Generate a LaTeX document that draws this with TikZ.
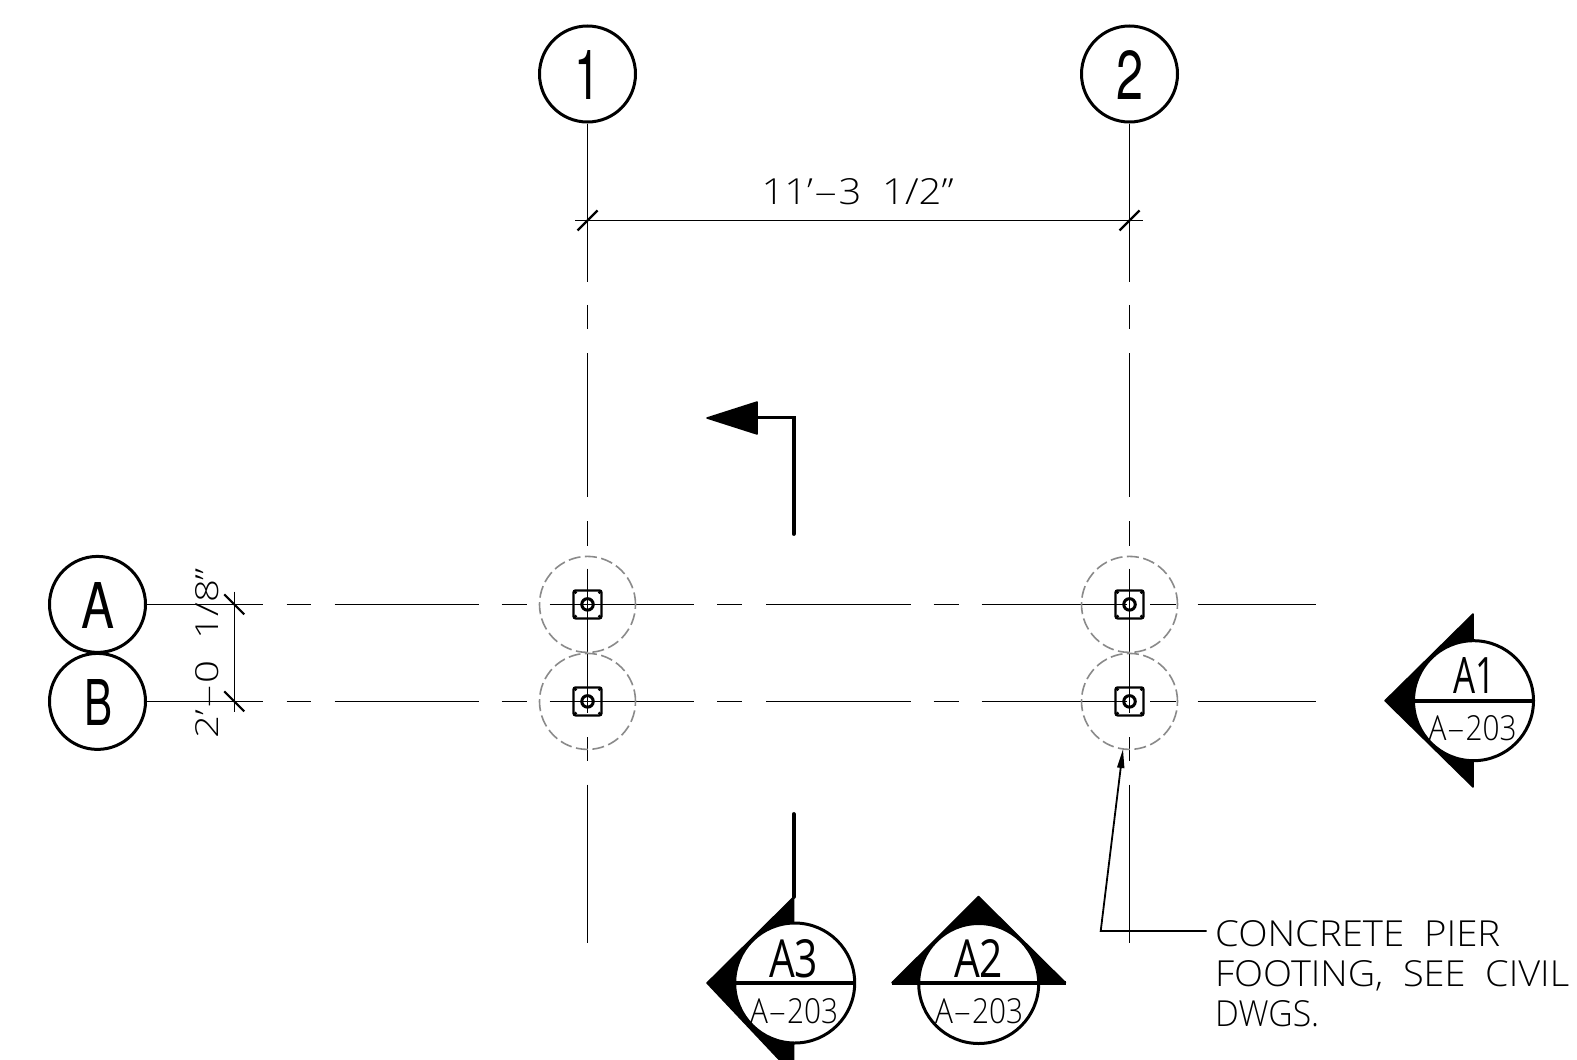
\documentclass[tikz,border=0pt]{standalone}
\usepackage{graphicx}
\usepackage{fontspec}
\usetikzlibrary{arrows.meta}
\setmainfont{TeX Gyre Heros}
\newfontfamily\thinfont{Open Sans}[UprightFont=* Light]
\newfontfamily\midfont{Open Sans}
\newcommand\fit[3]{\resizebox{#1pt}{#2pt}{#3}}
\newcommand\lhy{\scalebox{2}[1]{-}}
\definecolor{piergray}{HTML}{8A8A8A}
\tikzset{
  x=1pt,y=-1pt,
  bubble/.style={circle,draw=black,line width=3pt,minimum size=96pt,inner sep=0pt,fill=white},
  gridline/.style={line width=1.2pt,black},
  pierzone/.style={circle,draw=piergray,line width=1.6pt,minimum size=96pt,inner sep=0pt,dash pattern=on 12pt off 4.5pt},
  pierplate/.style={draw=black,line width=2.2pt,rounded corners=2pt,minimum size=28pt,inner sep=0pt},
  pierbolt/.style={circle,draw=black,line width=3pt,minimum size=11.5pt,inner sep=0pt},
  platedot/.style={circle,fill=black,minimum size=3.5pt,inner sep=0pt},
  dimline/.style={line width=1.2pt,black},
  dimtick/.style={line width=2.2pt,black},
  heavy/.style={line width=3.8pt,black,line cap=round},
  sectri/.style={fill=black,draw=black,line width=1.5pt,line join=round},
  seccircle/.style={circle,draw=black,line width=3pt,fill=white,minimum size=120pt,inner sep=0pt},
  thintext/.style={inner sep=0pt,anchor=base,font=\thinfont\fontsize{34}{40}\selectfont},
  midtext/.style={inner sep=0pt,anchor=base,font=\midfont\fontsize{34}{40}\selectfont},
  boldtext/.style={inner sep=0pt,anchor=base,font=\fontsize{60}{60}\selectfont},
  coldash/.style={dash pattern=on 158.4pt off 23pt on 24.3pt off 23.8pt on 144pt off 24.2pt on 24.3pt off 23pt on 144.7pt off 24pt on 24pt off 23.3pt on 200pt off 10pt},
  rowdash/.style={dash pattern=on 115.5pt off 24pt on 24pt off 24pt on 144pt off 23pt on 25pt off 23pt on 144.5pt off 23pt on 25pt off 24pt on 145pt off 22.5pt on 25pt off 23pt on 145pt off 23.5pt on 26pt off 21.5pt on 200pt off 10pt},
}
\begin{document}
\begin{tikzpicture}
\useasboundingbox (0,0) rectangle (1577,1060);
\clip (0,0) rectangle (1577,1060);
\fill[white] (0,0) rectangle (1577,1060);

% bubbles
\node[bubble] (c1) at (587.5,74) {};
\node[bubble] (c2) at (1129.5,74) {};
\node[bubble] (ra) at (97.5,604.4) {};
\node[bubble] (rb) at (97.5,701.4) {};
\node[boldtext] (t1) at (587,99) {\fit{26}{49}{1}};
\node[boldtext] (t2) at (1129.5,99) {\fit{27}{49}{2}};
\node[boldtext] (ta) at (97.5,628) {\fit{33}{46}{A}};
\node[boldtext] (tb) at (98.5,725) {\fit{28}{46}{B}};

% grid line ends
\coordinate (c1end) at (587.5,943);
\coordinate (c2end) at (1129.5,943);
\coordinate (raend) at (1316,604.4);
\coordinate (rbend) at (1316,701.4);
\draw[gridline,coldash] (c1.south) -- (c1end);
\draw[gridline,coldash] (c2.south) -- (c2end);
\draw[gridline,rowdash] (ra.east) -- (raend);
\draw[gridline,rowdash] (rb.east) -- (rbend);

% piers
\foreach \nm/\px/\py in {pa/587.5/604.4,pb/587.5/701.4,pc/1129.5/604.4,pd/1129.5/701.4}{
  \node[pierzone] (z\nm) at (\px,\py) {};
  \node[pierplate] (s\nm) at (\px,\py) {};
  \node[pierbolt] (b\nm) at (\px,\py) {};
  \node[platedot] at ([shift={(-12,-12)}]\px,\py) {};
  \node[platedot] at ([shift={(12,-12)}]\px,\py) {};
  \node[platedot] at ([shift={(-12,12)}]\px,\py) {};
  \node[platedot] at ([shift={(12,12)}]\px,\py) {};
}

% horizontal dimension
\coordinate (dl) at (575,220.5);
\coordinate (dr) at (1142.5,220.5);
\coordinate (d1) at (587.5,220.5);
\coordinate (d2) at (1129.5,220.5);
\draw[dimline] (dl) -- (dr);
\draw[dimtick] ([shift={(-10,10)}]d1) -- ([shift={(10,-10)}]d1);
\draw[dimtick] ([shift={(-10,10)}]d2) -- ([shift={(10,-10)}]d2);
\node[thintext] (dimh) at (857.5,204) {\fit{192}{26}{11’\lhy{}3\ \ 1/2”}};

% vertical dimension
\coordinate (v1) at (234.3,604.4);
\coordinate (v2) at (234.3,701.4);
\coordinate (vt) at (234.3,591.5);
\coordinate (vb) at (234.3,711.5);
\draw[dimline] (vt) -- (vb);
\draw[dimtick] ([shift={(-10,-10)}]v1) -- ([shift={(10,10)}]v1);
\draw[dimtick] ([shift={(-10,-10)}]v2) -- ([shift={(10,10)}]v2);
\node[thintext,rotate=90] (dimv) at (218,653) {\fit{170}{23}{2’\lhy{}0\ \ 1/8”}};

% section arrow, view marker
\coordinate (ss) at (793.7,534);
\coordinate (sc) at (793.7,417.5);
\coordinate (st) at (707,418);
\fill[black,draw=black,line width=1.5pt,line join=round] (st) -- (757,402) -- (757,434) -- cycle;
\draw[heavy] (ss) -- (sc) -- (755,417.5);

% A3
\coordinate (a3s) at (793.7,814);
\coordinate (a3t) at (793.7,897);
\draw[heavy] (a3s) -- (a3t);
\draw[sectri] (a3t) -- (707,983) -- (793.7,1075) -- cycle;
\node[seccircle] (a3) at (794.7,983) {};
\draw[heavy,line cap=butt] (a3.west) -- (a3.east);
\node[midtext] (a3u) at (793.5,977) {\fit{49}{38}{A3}};
\node[thintext] (a3l) at (794,1023) {\fit{88}{25}{A\lhy{}203}};

% A2
\draw[sectri] (892,982.7) -- (978.5,896.5) -- (1065.5,982.7) -- cycle;
\node[seccircle] (a2) at (978.7,983.5) {};
\draw[heavy,line cap=butt] (892,982.7) -- (1065.5,982.7);
\node[midtext] (a2u) at (978.5,977) {\fit{49}{38}{A2}};
\node[thintext] (a2l) at (979,1023) {\fit{88}{25}{A\lhy{}203}};

% A1
\draw[sectri] (1473,614) -- (1385,700.7) -- (1473,787) -- cycle;
\node[seccircle] (a1) at (1473.5,700.7) {};
\draw[heavy,line cap=butt] (a1.west) -- (a1.east);
\node[midtext] (a1u) at (1474,693) {\fit{42}{36}{A1}};
\node[thintext] (a1l) at (1472.5,740) {\fit{88}{25}{A\lhy{}203}};

% leader and note
\node[thintext,anchor=north west,align=left] (note) at (1215,920) {%
  \fit{285}{26}{CONCRETE\ \ PIER}\\
  \fit{354}{26}{FOOTING,\ \ SEE\ \ CIVIL}\\
  \fit{104}{26}{DWGS.}};
\coordinate (lend) at (1206.7,931);
\coordinate (lcorner) at (1100.7,931);
\coordinate (ltip) at (1123,749);
\draw[line width=1.8pt,black,-{Triangle[length=19pt,width=7pt]}] (lend) -- (lcorner) -- (ltip);
\end{tikzpicture}
\end{document}
